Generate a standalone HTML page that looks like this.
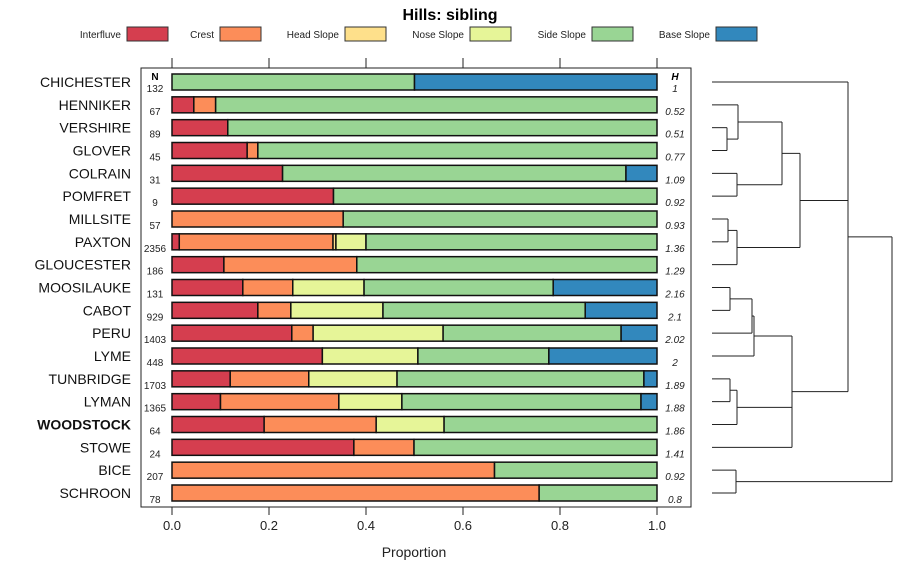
<!DOCTYPE html>
<html><head><meta charset="utf-8"><style>
body{margin:0;background:#fff;}
svg{display:block;font-family:"Liberation Sans",sans-serif;}
</style></head><body>
<svg id="c" width="900" height="580"></svg>
<script>
const names=["CHICHESTER","HENNIKER","VERSHIRE","GLOVER","COLRAIN","POMFRET","MILLSITE","PAXTON","GLOUCESTER","MOOSILAUKE","CABOT","PERU","LYME","TUNBRIDGE","LYMAN","WOODSTOCK","STOWE","BICE","SCHROON"];
const nVals=[132,67,89,45,31,9,57,2356,186,131,929,1403,448,1703,1365,64,24,207,78];
const hVals=["1","0.52","0.51","0.77","1.09","0.92","0.93","1.36","1.29","2.16","2.1","2.02","2","1.89","1.88","1.86","1.41","0.92","0.8"];
const classes=["Interfluve","Crest","Head Slope","Nose Slope","Side Slope","Base Slope"];
const colors=["#D53E4F","#FC8D59","#FEE08B","#E6F598","#99D594","#3288BD"];
// proportions per row: interfluve, crest, head, nose, side, base
const interfluve=[0,0.045,0.115,0.155,0.228,0.333,0,0.015,0.107,0.146,0.177,0.247,0.31,0.12,0.1,0.19,0.375,0,0];
const crest=[0,0.045,0,0.022,0,0,0.353,0.317,0.274,0.103,0.068,0.044,0,0.162,0.244,0.231,0.124,0.665,0.757];
const head=[0,0,0,0,0,0,0,0.006,0,0,0,0,0,0,0,0,0,0,0];
const nose=[0,0,0,0,0,0,0,0.062,0,0.147,0.19,0.268,0.197,0.182,0.13,0.14,0,0,0];
const side=[0.5,0.91,0.885,0.823,0.708,0.667,0.647,0.6,0.619,0.39,0.417,0.367,0.27,0.509,0.493,0.439,0.501,0.335,0.243];
const base=[0.5,0,0,0,0.064,0,0,0,0,0.214,0.148,0.074,0.223,0.027,0.033,0,0,0,0];
const ticks=[0,0.2,0.4,0.6,0.8,1.0];
const ns="http://www.w3.org/2000/svg";
const svg=document.getElementById('c');
function mk(t,a,p){const e=document.createElementNS(ns,t);for(const k in a)e.setAttribute(k,a[k]);(p||svg).appendChild(e);return e;}
const x=v=>172+v*485;
const y=i=>82+i*(493-82)/18;
// title
let t=mk('text',{x:450,y:20,'text-anchor':'middle','font-size':16,'font-weight':'bold'});t.textContent="Hills: sibling";


// legend
const legBox=[127,220,345,470,592,716];
classes.forEach((c,i)=>{
 const g=mk('g',{});
 
 
 const tt=mk('text',{x:legBox[i]-6,y:38,'text-anchor':'end','font-size':10,fill:'#222'},g);tt.textContent=c;
 mk('rect',{x:legBox[i],y:27,width:41,height:14,fill:colors[i],stroke:'#333','stroke-width':1},g);
});
// panel
const panel=mk('rect',{x:141,y:68,width:550,height:439,fill:'none',stroke:'#222','stroke-width':1});


ticks.forEach(v=>{
 mk('line',{x1:x(v),x2:x(v),y1:58,y2:68,stroke:'#222'});
 mk('line',{x1:x(v),x2:x(v),y1:507,y2:515,stroke:'#222'});
 const tl=mk('text',{x:x(v),y:530,'text-anchor':'middle','font-size':13,fill:'#222'});tl.textContent=v.toFixed(1);
 
 
});
t=mk('text',{x:414,y:557,'text-anchor':'middle','font-size':14,fill:'#222'});t.textContent="Proportion";


t=mk('text',{x:155,y:80,'text-anchor':'middle','font-size':10,'font-weight':'bold'});t.textContent="N";
t=mk('text',{x:675,y:80,'text-anchor':'middle','font-size':10,'font-weight':'bold','font-style':'italic'});t.textContent="H";
const series=[interfluve,crest,head,nose,side,base];
names.forEach((n,i)=>{
 const cy=y(i);
 const lab=mk('text',{x:131,y:cy+5,'text-anchor':'end','font-size':14,fill:'#111','font-weight':n==='WOODSTOCK'?'bold':'normal'});lab.textContent=n;
 
 
 const nl=mk('text',{x:155,y:cy+10,'text-anchor':'middle','font-size':10,fill:'#222'});nl.textContent=nVals[i];
 
 
 const hl=mk('text',{x:675,y:cy+10,'text-anchor':'middle','font-size':10,'font-style':'italic',fill:'#222'});hl.textContent=hVals[i];
 
 
 let acc=0;
 series.forEach((s,k)=>{
  if(s[i]<=0)return;
  let w=s[i]; if(acc+w>1)w=1-acc;
  const r=mk('rect',{x:x(acc),y:cy-8,width:x(acc+w)-x(acc),height:16,fill:colors[k],stroke:'#111','stroke-width':1.5});
  
  
  acc+=s[i];
 });
});
// dendrogram: [left, right, mergeX]
const leafX=712;
function node(n){ if(typeof n==='number') return {x:leafX,y:y(n)};
 const ch=n.c.map(node); const ys=ch.map(c=>c.y);
 const my=(Math.min(...ys)+Math.max(...ys))/2;
 ch.forEach(c=>mk('line',{x1:c.x,x2:n.h,y1:c.y,y2:c.y,stroke:'#222','stroke-width':1}));
 mk('line',{x1:n.h,x2:n.h,y1:Math.min(...ys),y2:Math.max(...ys),stroke:'#222','stroke-width':1});
 return {x:n.h,y:my};
}
const tree={h:892,c:[{h:848,c:[0,{h:800,c:[{h:782,c:[{h:738,c:[1,{h:727,c:[2,3]}]},{h:737,c:[4,5]}]},{h:737,c:[{h:728,c:[6,7]},8]}]},{h:792,c:[{h:754,c:[{h:752,c:[{h:730,c:[9,10]},11]},12]},{h:737,c:[{h:730,c:[13,14]},15]},16]}]},{h:736,c:[17,18]}]};
node(tree);
</script>
</body></html>
